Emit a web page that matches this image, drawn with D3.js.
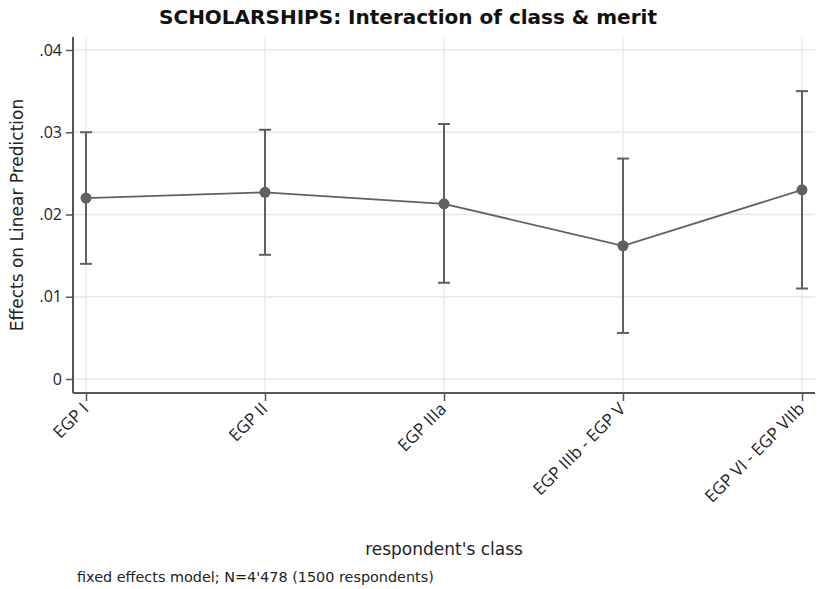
<!DOCTYPE html>
<html>
<head>
<meta charset="utf-8">
<script src="https://cdn.jsdelivr.net/npm/d3@7"></script>
<style>
  body { margin: 0; background: #fff; }
  svg { display: block; }
  .tick text { font-family: "Open Sans", sans-serif; fill: #222; }
</style>
</head>
<body>
<svg width="817" height="589"></svg>
<script>
var width = 817, height = 589;

var classes = ["EGP I", "EGP II", "EGP IIIa", "EGP IIIb - EGP V", "EGP VI - EGP VIIb"];
var effects = [0.0220, 0.0227, 0.0213, 0.0162, 0.0230];
var ciLow   = [0.0140, 0.0151, 0.0117, 0.0056, 0.0110];
var ciHigh  = [0.0300, 0.0303, 0.0310, 0.0268, 0.0350];
var yTicks  = [0, 0.01, 0.02, 0.03, 0.04];
var yTickLabels = ["0", ".01", ".02", ".03", ".04"];

var margin = {left: 73, right: 2, top: 37, bottom: 196};
var lineColor = "#606060";

var svg = d3.select("svg");

var x = d3.scalePoint()
    .domain(classes)
    .range([86, 802]);

var y = d3.scaleLinear()
    .domain([0, 0.04])
    .range([379, 50]);

// gridlines
svg.append("g")
    .selectAll("line.hgrid")
    .data(yTicks)
    .enter().append("line")
    .attr("x1", margin.left)
    .attr("x2", width - margin.right)
    .attr("y1", function(d) { return y(d); })
    .attr("y2", function(d) { return y(d); })
    .attr("stroke", "#e8e8e8")
    .attr("stroke-width", 1.3);

svg.append("g")
    .selectAll("line.vgrid")
    .data(classes)
    .enter().append("line")
    .attr("x1", function(d) { return x(d); })
    .attr("x2", function(d) { return x(d); })
    .attr("y1", margin.top)
    .attr("y2", 393)
    .attr("stroke", "#e8e8e8")
    .attr("stroke-width", 1.3);

// axes
var yAxis = svg.append("g")
    .attr("transform", "translate(" + margin.left + ",0)")
    .call(d3.axisLeft(y).tickValues(yTicks)
        .tickFormat(function(d, i) { return yTickLabels[i]; })
        .tickSize(7).tickPadding(4));
yAxis.select(".domain").attr("d", "M0," + margin.top + "V393");

var xAxis = svg.append("g")
    .attr("transform", "translate(0,393)")
    .call(d3.axisBottom(x).tickSize(8).tickSizeOuter(0));
xAxis.select(".domain").attr("d", "M" + margin.left + ",0H" + (width - margin.right));

svg.selectAll(".domain").attr("stroke", "#555").attr("stroke-width", 2);
svg.selectAll(".tick line").attr("stroke", "#555").attr("stroke-width", 1.5);
yAxis.selectAll(".tick text").attr("font-size", 16);
xAxis.selectAll(".tick text")
    .attr("font-size", 17)
    .attr("text-anchor", "end")
    .attr("dy", null)
    .attr("transform", "translate(3,17) rotate(-45)")
    .attr("x", 0)
    .attr("y", 0);

// error bars
var eb = svg.append("g").selectAll("g")
    .data(classes)
    .enter().append("g");

eb.append("line")
    .attr("x1", function(d) { return x(d); })
    .attr("x2", function(d) { return x(d); })
    .attr("y1", function(d, i) { return y(ciLow[i]); })
    .attr("y2", function(d, i) { return y(ciHigh[i]); })
    .attr("stroke", lineColor)
    .attr("stroke-width", 2);

eb.append("line")
    .attr("x1", function(d) { return x(d) - 6; })
    .attr("x2", function(d) { return x(d) + 6; })
    .attr("y1", function(d, i) { return y(ciLow[i]); })
    .attr("y2", function(d, i) { return y(ciLow[i]); })
    .attr("stroke", lineColor)
    .attr("stroke-width", 2);

eb.append("line")
    .attr("x1", function(d) { return x(d) - 6; })
    .attr("x2", function(d) { return x(d) + 6; })
    .attr("y1", function(d, i) { return y(ciHigh[i]); })
    .attr("y2", function(d, i) { return y(ciHigh[i]); })
    .attr("stroke", lineColor)
    .attr("stroke-width", 2);

// connecting line
var line = d3.line()
    .x(function(d, i) { return x(classes[i]); })
    .y(function(d) { return y(d); });

svg.append("path")
    .datum(effects)
    .attr("d", line)
    .attr("fill", "none")
    .attr("stroke", lineColor)
    .attr("stroke-width", 1.8);

svg.append("g").selectAll("circle")
    .data(effects)
    .enter().append("circle")
    .attr("cx", function(d, i) { return x(classes[i]); })
    .attr("cy", function(d) { return y(d); })
    .attr("r", 5.5)
    .attr("fill", lineColor);

// titles
svg.append("text")
    .attr("x", 408)
    .attr("y", 24)
    .attr("text-anchor", "middle")
    .attr("font-family", "DejaVu Sans, sans-serif")
    .attr("font-weight", "bold")
    .attr("font-size", 20)
    .attr("fill", "#111")
    .text("SCHOLARSHIPS: Interaction of class & merit");

svg.append("text")
    .attr("transform", "translate(23,215) rotate(-90)")
    .attr("text-anchor", "middle")
    .attr("font-family", "DejaVu Sans, sans-serif")
    .attr("font-size", 17)
    .attr("fill", "#222")
    .text("Effects on Linear Prediction");

svg.append("text")
    .attr("x", 444)
    .attr("y", 555)
    .attr("text-anchor", "middle")
    .attr("font-family", "DejaVu Sans, sans-serif")
    .attr("font-size", 17)
    .attr("fill", "#222")
    .text("respondent's class");

svg.append("text")
    .attr("x", 77)
    .attr("y", 582)
    .attr("font-family", "DejaVu Sans, sans-serif")
    .attr("font-size", 14.4)
    .attr("fill", "#222")
    .text("fixed effects model; N=4'478 (1500 respondents)");
</script>
</body>
</html>
